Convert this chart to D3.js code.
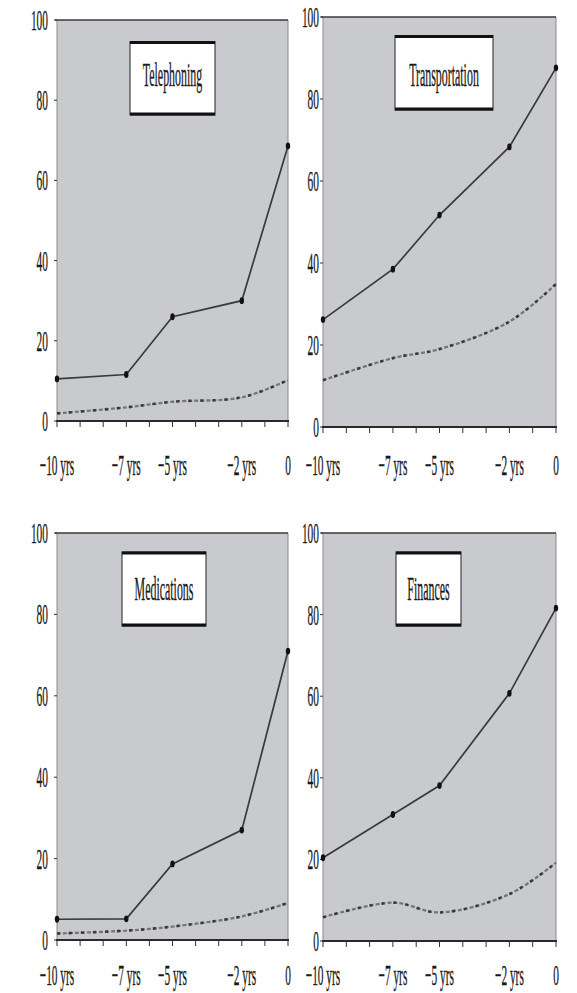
<!DOCTYPE html>
<html>
<head>
<meta charset="utf-8">
<script src="https://cdn.jsdelivr.net/npm/d3@7"></script>
<style>
  html, body { margin: 0; padding: 0; background: #ffffff; }
  svg { display: block; }
  text { font-family: "Liberation Serif", "DejaVu Serif", serif; fill: #1a1a1a; stroke: #1a1a1a; stroke-width: 0.35; }
</style>
</head>
<body>
<svg id="chart" width="577" height="993"></svg>
<script>
// Time points (years before the reference point)
const years = [-10, -7, -5, -2, 0];
const xTickYears = [-10, -9, -8, -7, -6, -5, -4, -3, -2, -1, 0];
const xTickLabels = ["\u221210 yrs", "\u22127 yrs", "\u22125 yrs", "\u22122 yrs", "0"];
const yTicks = [0, 20, 40, 60, 80, 100];

const panelTitles = ["Telephoning", "Transportation", "Medications", "Finances"];

// Percentages: solid series and dashed comparison series
const telephoningSolid = [10.5, 11.6, 26, 30, 68.6];
const telephoningDashed = [1.9, 3.4, 4.8, 5.9, 10.2];
const transportationSolid = [26.2, 38.5, 51.7, 68.3, 87.6];
const transportationDashed = [11.4, 16.8, 19.0, 25.7, 34.9];
const medicationsSolid = [5.1, 5.2, 18.7, 27, 71];
const medicationsDashed = [1.6, 2.3, 3.3, 5.8, 9.1];
const financesSolid = [20.4, 31, 38.1, 60.7, 81.6];
const financesDashed = [5.8, 9.4, 7.0, 11.5, 19.2];

const solidSeries = [telephoningSolid, transportationSolid, medicationsSolid, financesSolid];
const dashedSeries = [telephoningDashed, transportationDashed, medicationsDashed, financesDashed];

// Panel layout
const panels = [
  { x0: 57,  x1: 288, top: 20,  bottom: 421, yLabelX: 48,  xLabelY: 475,
    box: { x0: 130, x1: 215, y0: 41.5, y1: 115 }, titleY: 86 },
  { x0: 323, x1: 556, top: 17,  bottom: 427, yLabelX: 319, xLabelY: 475,
    box: { x0: 395, x1: 493, y0: 35.5, y1: 110 }, titleY: 86 },
  { x0: 57,  x1: 288, top: 533, bottom: 940, yLabelX: 48,  xLabelY: 985,
    box: { x0: 122, x1: 206, y0: 552, y1: 626 }, titleY: 600 },
  { x0: 323, x1: 556, top: 533, bottom: 941, yLabelX: 319, xLabelY: 985,
    box: { x0: 396, x1: 461, y0: 552, y1: 626 }, titleY: 600 }
];

const SX = 0.38;        // narrow serif lettering
const labelSize = 30;
const titleSize = 33;

const svg = d3.select("#chart");

panels.forEach((p, i) => {
  const x = d3.scaleLinear().domain([-10, 0]).range([p.x0, p.x1]);
  const y = d3.scaleLinear().domain([0, 100]).range([p.bottom, p.top]);
  const g = svg.append("g");

  // plot background
  g.append("rect")
    .attr("x", p.x0).attr("y", p.top)
    .attr("width", p.x1 - p.x0).attr("height", p.bottom - p.top)
    .attr("fill", "#c9cacd");

  // frame: thin sides, darker top
  g.append("line").attr("x1", p.x0).attr("x2", p.x0).attr("y1", p.top).attr("y2", p.bottom)
    .attr("stroke", "#8a8a8a").attr("stroke-width", 1);
  g.append("line").attr("x1", p.x1).attr("x2", p.x1).attr("y1", p.top).attr("y2", p.bottom)
    .attr("stroke", "#8a8a8a").attr("stroke-width", 1);
  g.append("line").attr("x1", p.x0 - 2).attr("x2", p.x1).attr("y1", p.top).attr("y2", p.top)
    .attr("stroke", "#3a3a3a").attr("stroke-width", 1.6);

  // y-axis ticks and labels
  yTicks.forEach(t => {
    g.append("line")
      .attr("x1", p.x0 - 3).attr("x2", p.x0)
      .attr("y1", y(t)).attr("y2", y(t))
      .attr("stroke", "#333").attr("stroke-width", 1);
    g.append("text")
      .attr("transform", `translate(${p.yLabelX},${y(t) + 10}) scale(${SX},1)`)
      .attr("text-anchor", "end")
      .attr("font-size", labelSize)
      .text(t);
  });

  // x axis baseline and ticks
  g.append("line").attr("x1", p.x0 - 1).attr("x2", p.x1 + 1)
    .attr("y1", p.bottom).attr("y2", p.bottom)
    .attr("stroke", "#2a2a2a").attr("stroke-width", 2);
  xTickYears.forEach(t => {
    g.append("line")
      .attr("x1", x(t)).attr("x2", x(t))
      .attr("y1", p.bottom).attr("y2", p.bottom + 6)
      .attr("stroke", "#333").attr("stroke-width", 1);
  });
  years.forEach((t, k) => {
    g.append("text")
      .attr("transform", `translate(${x(t)},${p.xLabelY}) scale(${SX},1)`)
      .attr("text-anchor", "middle")
      .attr("font-size", labelSize)
      .text(xTickLabels[k]);
  });

  // dashed smoothed series
  const dashedPts = years.map((t, k) => [x(t), y(dashedSeries[i][k])]);
  const smooth = d3.line().curve(d3.curveCatmullRom.alpha(0.5));
  g.append("path")
    .attr("d", smooth(dashedPts))
    .attr("fill", "none")
    .attr("stroke", "#767676")
    .attr("stroke-width", 2.3)
    .attr("stroke-dasharray", "4,2");
  g.append("path")
    .attr("d", smooth(dashedPts))
    .attr("fill", "none")
    .attr("stroke", "#1e1e1e")
    .attr("stroke-width", 2.6)
    .attr("stroke-dasharray", "3,9")
    .attr("opacity", 0.7);

  // solid series with markers
  const solidPts = years.map((t, k) => [x(t), y(solidSeries[i][k])]);
  g.append("path")
    .attr("d", d3.line()(solidPts))
    .attr("fill", "none")
    .attr("stroke", "#3a3a3a")
    .attr("stroke-width", 1.7);
  g.selectAll(".mk").data(solidPts).enter().append("ellipse")
    .attr("cx", d => d[0]).attr("cy", d => d[1])
    .attr("rx", 2.2).attr("ry", 3.4)
    .attr("fill", "#111");

  // title box
  const b = p.box;
  g.append("rect")
    .attr("x", b.x0).attr("y", b.y0)
    .attr("width", b.x1 - b.x0).attr("height", b.y1 - b.y0)
    .attr("fill", "#ffffff")
    .attr("stroke", "#222").attr("stroke-width", 1);
  g.append("line").attr("x1", b.x0).attr("x2", b.x1).attr("y1", b.y0 + 1).attr("y2", b.y0 + 1)
    .attr("stroke", "#111").attr("stroke-width", 3);
  g.append("line").attr("x1", b.x0).attr("x2", b.x1).attr("y1", b.y1 - 1).attr("y2", b.y1 - 1)
    .attr("stroke", "#111").attr("stroke-width", 3);
  g.append("text")
    .attr("transform", `translate(${(b.x0 + b.x1) / 2},${p.titleY}) scale(${SX * 0.95},1)`)
    .attr("text-anchor", "middle")
    .attr("font-size", titleSize)
    .text(panelTitles[i]);
});
</script>
</body>
</html>
